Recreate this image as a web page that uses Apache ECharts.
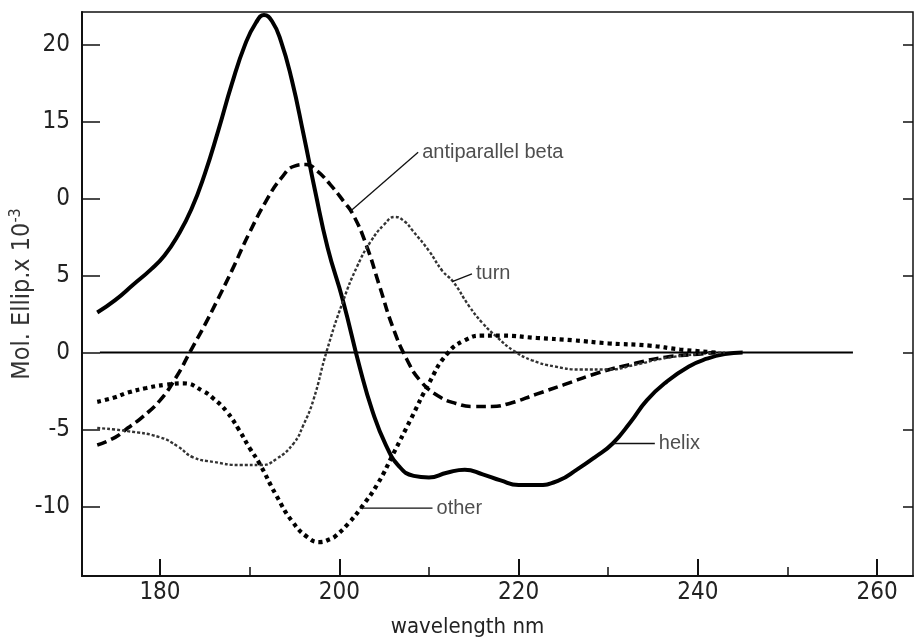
<!DOCTYPE html>
<html>
<head>
<meta charset="utf-8">
<title>CD spectra</title>
<script src="https://cdn.jsdelivr.net/npm/echarts@6/dist/echarts.min.js"></script>
<style>
  html, body { margin: 0; padding: 0; background: #fff; }
  #chart { width: 914px; height: 637px; }
</style>
</head>
<body>
<div id="chart"></div>
<script>
// wavelength (nm), mol. ellipticity x 10^-3
const helix = [[173,2.6],[175,3.4],[177,4.4],[179,5.4],[180.5,6.3],[182,7.6],[183.5,9.3],[185,11.6],[186.5,14.4],[188,17.4],[189.5,20.0],[190.7,21.4],[191.6,21.9],[192.5,21.5],[193.5,20.2],[194.7,17.7],[196,14.2],[197.3,10.5],[198.7,6.8],[200.4,3.4],[202.3,-1.0],[203.7,-3.8],[205.2,-6.0],[206.7,-7.4],[208.3,-8.0],[210,-8.1],[212,-7.8],[214,-7.6],[216,-7.9],[218,-8.3],[220,-8.6],[222,-8.6],[224.5,-8.3],[226.5,-7.6],[228.5,-6.8],[230.5,-5.9],[232.5,-4.5],[234.3,-3.1],[236.5,-1.9],[239,-0.9],[241,-0.4],[243,-0.1],[245,0]];
const beta = [[173,-6.0],[175,-5.5],[176.4,-4.9],[178,-4.2],[180,-3.1],[181.8,-1.6],[183.4,0.1],[185,1.8],[186.4,3.4],[188,5.3],[190,7.8],[192,10.0],[193.5,11.3],[195,12.1],[196.3,12.2],[197.5,11.8],[199,10.9],[200.5,9.8],[201.5,9.0],[203,7.0],[204.5,4.3],[206,1.6],[207.5,-0.4],[209,-1.8],[211,-2.8],[213,-3.3],[215,-3.5],[217,-3.5],[219,-3.3],[222,-2.7],[225,-2.1],[229,-1.3],[233,-0.7],[236.4,-0.3],[240,-0.1],[242,0]];
const turn = [[173,-4.9],[176.4,-5.1],[180,-5.5],[182,-6.1],[183.7,-6.8],[186,-7.1],[189,-7.3],[191.3,-7.3],[193,-6.9],[194.9,-5.9],[196,-4.7],[197.1,-3.1],[198.6,0.1],[200.4,3.3],[202,5.6],[203.5,7.2],[205,8.3],[206.2,8.8],[207.3,8.5],[208.2,7.9],[210,6.6],[211.5,5.3],[212.7,4.6],[214.5,3.0],[216,1.9],[217.6,1.0],[219.5,0.1],[221.5,-0.5],[224,-0.9],[227,-1.1],[230,-1.1],[233,-0.8],[236,-0.4],[240,-0.1],[243,0]];
const other = [[173,-3.2],[175,-2.9],[176.4,-2.6],[178.5,-2.3],[180.5,-2.1],[182.6,-2.0],[184.8,-2.5],[186,-3.0],[187.4,-3.8],[188.8,-5.0],[190,-6.2],[191.1,-7.2],[193,-9.3],[194.8,-11.0],[196.5,-12.0],[197.8,-12.3],[199,-12.1],[199.6,-11.9],[201,-11.1],[202.4,-10.1],[204.3,-8.5],[206,-6.6],[208,-4.3],[210,-2.0],[212,-0.1],[214,0.8],[216,1.1],[218,1.1],[222,0.95],[226,0.8],[230,0.6],[234.6,0.45],[238,0.2],[242,0]];
const baseline = [[173.3,0],[257.3,0]];

const xMajor = [180, 200, 220, 240, 260];
const xMinor = [190, 210, 230, 250];
const yTicks = [20, 15, 10, 5, 0, -5, -10];
const yTickLabels = ['20', '15', '0', '5', '0', '-5', '-10'];

// callouts: curve point -> text anchor
const calloutNames = ['antiparallel beta', 'turn', 'helix', 'other'];
const calloutFrom = [[201.3, 9.2], [212.6, 4.6], [230.5, -5.9], [202.3, -10.1]];
const calloutTo = [[208.8, 13.0], [214.8, 5.1], [235.2, -5.9], [210.4, -10.1]];

const FONT = 'Liberation Sans';
const NARROW = '"Liberation Sans Narrow", "DejaVu Sans Condensed", sans-serif';
const INK = '#222';

const chart = echarts.init(document.getElementById('chart'));

const curve = (name, data, width, type, color) => ({
  name: name,
  type: 'line',
  data: data,
  showSymbol: false,
  smooth: 0.5,
  lineStyle: { color: color || '#000', width: width, type: type, cap: 'butt' },
  silent: true,
  z: 3
});

const series = [
  curve('baseline', baseline, 2, 'solid'),
  curve('helix', helix, 4, 'solid'),
  curve('antiparallel beta', beta, 3.6, [10, 5]),
  curve('turn', turn, 2.4, [3, 2], '#333'),
  curve('other', other, 4.2, [4, 4])
];

calloutNames.forEach((n, i) => {
  series.push({
    type: 'line',
    data: [calloutFrom[i], calloutTo[i]],
    showSymbol: false,
    lineStyle: { color: '#111', width: 1.3 },
    silent: true,
    z: 4
  });
});

series.push({
  type: 'scatter',
  symbolSize: 0,
  data: calloutTo.map((p, i) => [p[0], p[1], calloutNames[i]]),
  label: {
    show: true,
    position: 'right',
    distance: 4,
    formatter: p => p.value[2],
    fontFamily: FONT,
    fontSize: 20,
    color: INK
  },
  silent: true,
  z: 5
});

const option = {
  backgroundColor: '#ffffff',
  animation: false,
  grid: {
    left: 82, right: 1, top: 12, bottom: 61,
    outerBoundsMode: 'none',
    containLabel: false,
    show: true, borderColor: '#111', borderWidth: 1.5
  },
  xAxis: [
    {
      type: 'value',
      min: 171.3,
      max: 264,
      name: 'wavelength nm',
      nameLocation: 'middle',
      nameGap: 40,
      nameMoveOverlap: false,
      nameTextStyle: { fontFamily: NARROW, fontSize: 22, color: INK, padding: [0, 60, 0, 0] },
      axisLine: { show: true, onZero: false, lineStyle: { color: '#111', width: 2 } },
      axisTick: { show: true, inside: true, length: 17, customValues: xMajor, lineStyle: { color: '#111', width: 2 } },
      axisLabel: { customValues: xMajor, margin: 5, fontFamily: NARROW, fontSize: 24, color: INK },
      splitLine: { show: false }
    },
    {
      type: 'value',
      min: 171.3,
      max: 264,
      position: 'bottom',
      axisLine: { show: false, onZero: false },
      axisTick: { show: true, inside: true, length: 9, customValues: xMinor, lineStyle: { color: '#111', width: 1.5 } },
      axisLabel: { show: false },
      splitLine: { show: false }
    }
  ],
  yAxis: [
    {
      type: 'value',
      min: -14.5,
      max: 22.1,
      name: '{n|Mol. Ellip.x 10}{s|-3}',
      nameLocation: 'middle',
      nameGap: 46,
      nameMoveOverlap: false,
      nameTextStyle: {
        rich: {
          n: { fontFamily: NARROW, fontSize: 25, color: '#333', lineHeight: 28 },
          s: { fontFamily: NARROW, fontSize: 16, color: '#333', lineHeight: 16, verticalAlign: 'top' }
        }
      },
      axisLine: { show: true, onZero: false, lineStyle: { color: '#111', width: 2 } },
      axisTick: { show: true, inside: true, length: 18, customValues: yTicks, lineStyle: { color: '#111', width: 1.5 } },
      axisLabel: {
        customValues: yTicks,
        margin: 12,
        fontFamily: NARROW,
        fontSize: 24,
        color: INK,
        formatter: v => yTickLabels[yTicks.indexOf(v)]
      },
      splitLine: { show: false }
    },
    {
      type: 'value',
      min: -14.5,
      max: 22.1,
      position: 'right',
      axisLine: { show: false, onZero: false },
      axisTick: { show: true, inside: true, length: 10, customValues: yTicks, lineStyle: { color: '#111', width: 1.5 } },
      axisLabel: { show: false },
      splitLine: { show: false }
    }
  ],
  series: series
};

chart.setOption(option);
</script>
</body>
</html>
